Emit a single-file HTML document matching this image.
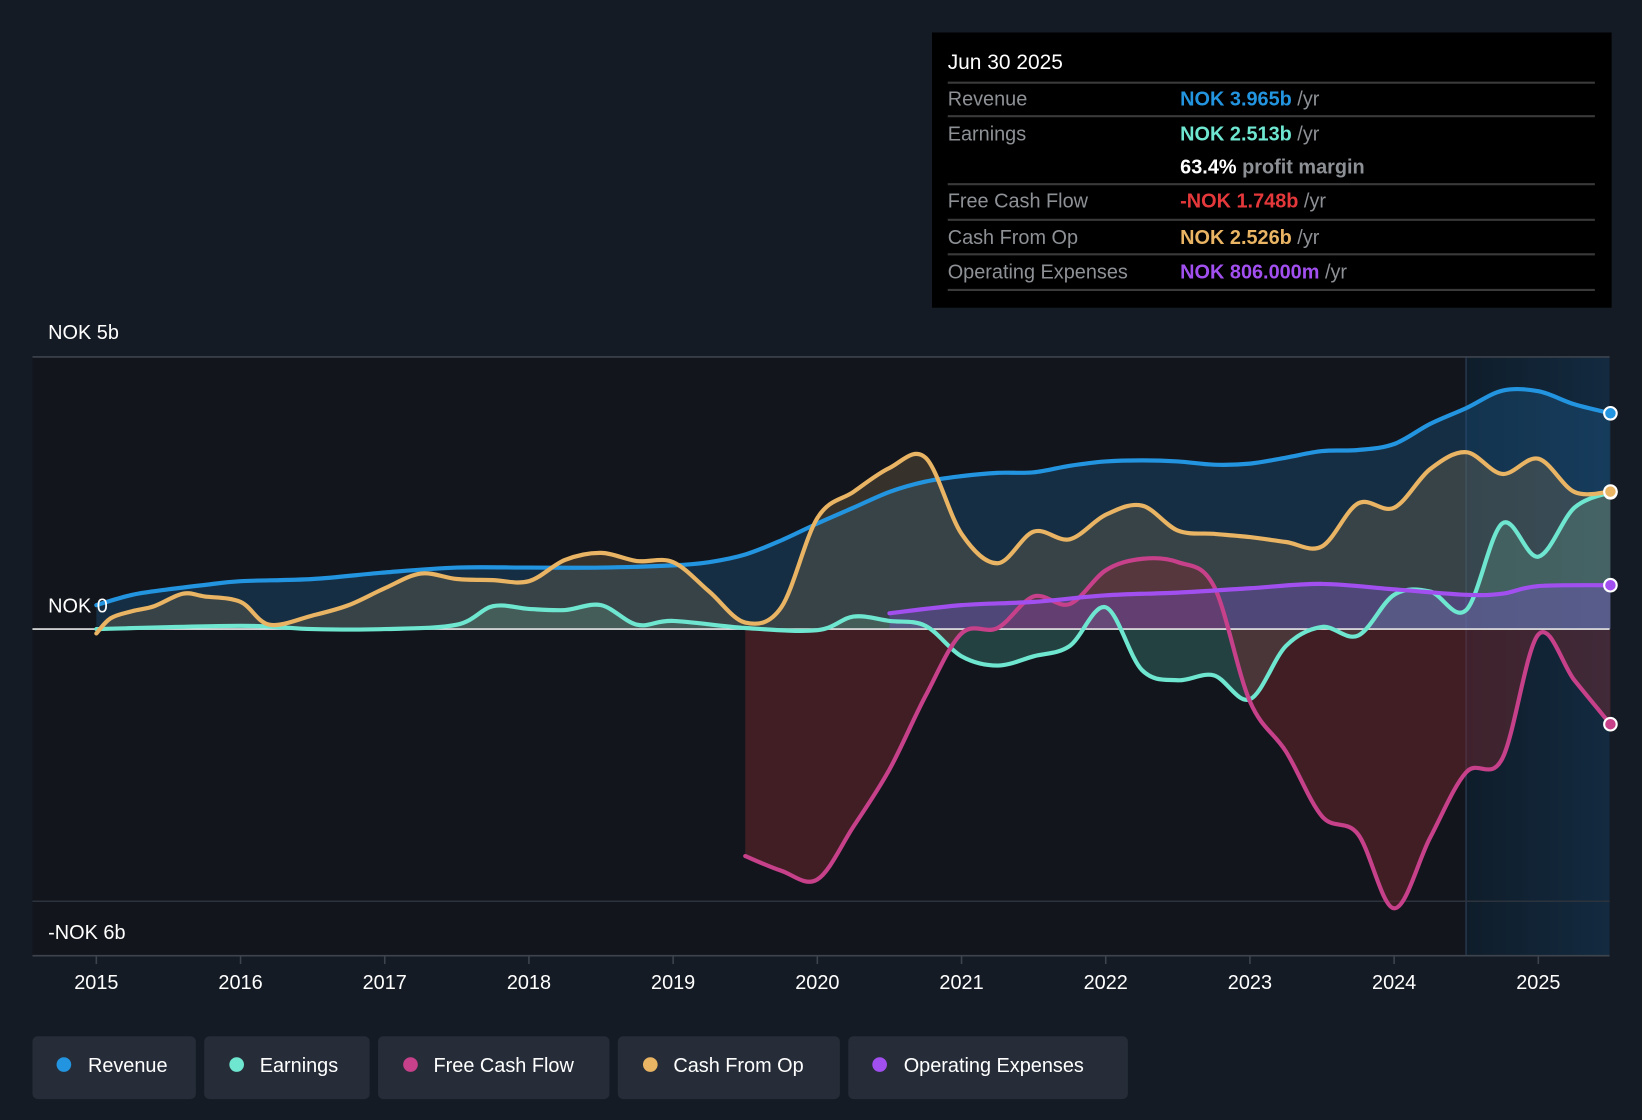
<!DOCTYPE html>
<html><head><meta charset="utf-8">
<style>
html,body{margin:0;padding:0;background:#151b24;}
svg{display:block;font-family:"Liberation Sans",sans-serif;}
</style></head>
<body>
<svg id="chart" width="1642" height="1120" viewBox="0 0 1568 1070" preserveAspectRatio="none" xmlns="http://www.w3.org/2000/svg">
<rect x="0" y="0" width="1568" height="1070" fill="#151b24"/>
<rect x="31" y="341" width="1369" height="572" fill="#12151b"/>
<defs>
<linearGradient id="fc" x1="0" x2="1" y1="0" y2="0"><stop offset="0" stop-color="#0f1d2a"/><stop offset="1" stop-color="#132a40"/></linearGradient>
</defs>
<rect x="1400" y="341" width="137" height="572" fill="url(#fc)"/>
<line x1="1400" y1="341" x2="1400" y2="913" stroke="#25354a" stroke-width="1.5"/>
<line x1="31" y1="341" x2="1537" y2="341" stroke="#3d444e" stroke-width="1.5"/>
<line x1="31" y1="861" x2="1537" y2="861" stroke="#2c333d" stroke-width="1.5"/>
<line x1="31" y1="913" x2="1537" y2="913" stroke="#3d444e" stroke-width="1.5"/>
<g id="areas"></g>
<line x1="31" y1="601" x2="1537" y2="601" stroke="#e8e8e8" stroke-width="1.5"/>
<g id="lines"></g>
<g id="xticks"></g>
<text x="46" y="324" fill="#fff" font-size="19">NOK 5b</text>
<text x="46" y="585" fill="#fff" font-size="19">NOK 0</text>
<text x="46" y="897" fill="#fff" font-size="19">-NOK 6b</text>

<g>
<rect x="890" y="31" width="649" height="263" fill="#000"/>
<text x="905" y="66" fill="#fff" font-size="20">Jun 30 2025</text>
<g stroke="#3a3a3a" stroke-width="2">
<line x1="905" y1="79" x2="1523" y2="79"/><line x1="905" y1="111" x2="1523" y2="111"/><line x1="905" y1="176" x2="1523" y2="176"/><line x1="905" y1="210" x2="1523" y2="210"/><line x1="905" y1="243" x2="1523" y2="243"/><line x1="905" y1="277" x2="1523" y2="277"/>
</g>
<g font-size="19" fill="#8d9095">
<text x="905" y="101">Revenue</text><text x="905" y="134">Earnings</text><text x="905" y="198">Free Cash Flow</text><text x="905" y="233">Cash From Op</text><text x="905" y="266">Operating Expenses</text>
</g>
<g font-size="19" font-weight="bold">
<text x="1127" y="101" fill="#2394df">NOK 3.965b <tspan fill="#8d9095" font-weight="normal">/yr</tspan></text>
<text x="1127" y="134" fill="#6ee6d0">NOK 2.513b <tspan fill="#8d9095" font-weight="normal">/yr</tspan></text>
<text x="1127" y="166" fill="#fff">63.4% <tspan fill="#8d9095">profit margin</tspan></text>
<text x="1127" y="198" fill="#e5383b">-NOK 1.748b <tspan fill="#8d9095" font-weight="normal">/yr</tspan></text>
<text x="1127" y="233" fill="#e9b463">NOK 2.526b <tspan fill="#8d9095" font-weight="normal">/yr</tspan></text>
<text x="1127" y="266" fill="#a24ff0">NOK 806.000m <tspan fill="#8d9095" font-weight="normal">/yr</tspan></text>
</g>
</g>

<g font-size="19" fill="#fff">
<g><rect x="31" y="990" width="156" height="60" rx="5" fill="#262d38"/><circle cx="61" cy="1017" r="7" fill="#2394df"/><text x="84" y="1024" fill="#fff">Revenue</text></g>
<g><rect x="195" y="990" width="158" height="60" rx="5" fill="#262d38"/><circle cx="226" cy="1017" r="7" fill="#6ee6d0"/><text x="248" y="1024" fill="#fff">Earnings</text></g>
<g><rect x="361" y="990" width="221" height="60" rx="5" fill="#262d38"/><circle cx="392" cy="1017" r="7" fill="#c6408a"/><text x="414" y="1024" fill="#fff">Free Cash Flow</text></g>
<g><rect x="590" y="990" width="212" height="60" rx="5" fill="#262d38"/><circle cx="621" cy="1017" r="7" fill="#e9b463"/><text x="643" y="1024" fill="#fff">Cash From Op</text></g>
<g><rect x="810" y="990" width="267" height="60" rx="5" fill="#262d38"/><circle cx="840" cy="1017" r="7" fill="#a24ff0"/><text x="863" y="1024" fill="#fff">Operating Expenses</text></g>
</g>
</svg>
<script>
const years = [2015,2016,2017,2018,2019,2020,2021,2022,2023,2024,2025];
const revT = [2015,2015.25,2015.5,2015.75,2016,2016.5,2017,2017.5,2018,2018.5,2019,2019.25,2019.5,2019.75,2020,2020.25,2020.5,2020.75,2021,2021.25,2021.5,2021.75,2022,2022.25,2022.5,2022.75,2023,2023.25,2023.5,2023.75,2024,2024.25,2024.5,2024.75,2025,2025.25,2025.5];
const revV = [0.44,0.63,0.73,0.81,0.88,0.92,1.04,1.13,1.13,1.13,1.17,1.23,1.37,1.63,1.94,2.23,2.52,2.71,2.81,2.87,2.88,3.0,3.08,3.1,3.08,3.02,3.04,3.15,3.27,3.29,3.4,3.77,4.06,4.38,4.37,4.13,3.965];
const cfoT = [2015,2015.1,2015.25,2015.4,2015.6,2015.75,2016,2016.2,2016.5,2016.75,2017,2017.25,2017.5,2017.75,2018,2018.25,2018.5,2018.75,2019,2019.25,2019.5,2019.75,2020,2020.25,2020.5,2020.75,2021,2021.25,2021.5,2021.75,2022,2022.25,2022.5,2022.75,2023,2023.25,2023.5,2023.75,2024,2024.25,2024.5,2024.75,2025,2025.25,2025.5];
const cfoV = [-0.08,0.2,0.33,0.42,0.65,0.6,0.5,0.08,0.25,0.44,0.75,1.02,0.92,0.9,0.88,1.27,1.4,1.25,1.23,0.69,0.12,0.4,2.04,2.52,2.96,3.15,1.75,1.21,1.79,1.65,2.1,2.27,1.81,1.75,1.69,1.6,1.52,2.31,2.23,2.94,3.25,2.85,3.13,2.52,2.526];
const earnT = [2015,2016,2016.5,2017,2017.5,2017.75,2018,2018.25,2018.5,2018.75,2019,2019.5,2020,2020.25,2020.5,2020.75,2021,2021.25,2021.5,2021.75,2022,2022.25,2022.5,2022.75,2023,2023.25,2023.5,2023.75,2024,2024.25,2024.5,2024.75,2025,2025.25,2025.5];
const earnV = [0,0.06,0,0,0.08,0.42,0.37,0.35,0.44,0.08,0.15,0.02,-0.02,0.23,0.15,0.06,-0.5,-0.67,-0.5,-0.31,0.4,-0.75,-0.94,-0.85,-1.29,-0.31,0.04,-0.12,0.63,0.69,0.35,1.94,1.33,2.23,2.513];
const fcfT = [2019.5,2019.75,2020,2020.25,2020.5,2020.75,2021,2021.25,2021.5,2021.75,2022,2022.25,2022.5,2022.75,2023,2023.25,2023.5,2023.75,2024,2024.25,2024.5,2024.75,2025,2025.25,2025.5];
const fcfV = [-4.17,-4.44,-4.6,-3.63,-2.58,-1.23,-0.08,0.02,0.6,0.46,1.08,1.29,1.23,0.79,-1.33,-2.25,-3.44,-3.77,-5.13,-3.83,-2.63,-2.38,-0.1,-0.94,-1.748];
const opexT = [2020.5,2021,2021.5,2022,2022.5,2023,2023.5,2024,2024.5,2024.75,2025,2025.5];
const opexV = [0.29,0.44,0.5,0.62,0.67,0.75,0.83,0.73,0.63,0.65,0.79,0.806];

const X = t => 92 + (t - 2015) * 137.7;
const Y = v => 601 - v * 52;
const NS = "http://www.w3.org/2000/svg";
function pts(T, V){ return T.map((t,i)=>[X(t),Y(V[i])]); }
function smooth(p){
  let d = `M${p[0][0]},${p[0][1]}`;
  for(let i=0;i<p.length-1;i++){
    const p0=p[i-1]||p[i], p1=p[i], p2=p[i+1], p3=p[i+2]||p2;
    const c1=[p1[0]+(p2[0]-p0[0])/6, p1[1]+(p2[1]-p0[1])/6];
    const c2=[p2[0]-(p3[0]-p1[0])/6, p2[1]-(p3[1]-p1[1])/6];
    d += ` C${c1[0]},${c1[1]} ${c2[0]},${c2[1]} ${p2[0]},${p2[1]}`;
  }
  return d;
}
const areas = document.getElementById('areas');
const lines = document.getElementById('lines');
function series(name, T, V, color, fill, fillOp){
  const p = pts(T,V);
  const d = smooth(p);
  const a = document.createElementNS(NS,'path');
  a.setAttribute('d', d + ` L${p[p.length-1][0]},601 L${p[0][0]},601 Z`);
  a.setAttribute('fill', fill); a.setAttribute('fill-opacity', fillOp);
  
  
  areas.appendChild(a);
  const l = document.createElementNS(NS,'path');
  l.setAttribute('d', d); l.setAttribute('fill','none'); l.setAttribute('stroke',color);
  l.setAttribute('stroke-width','4'); l.setAttribute('stroke-linejoin','round'); l.setAttribute('stroke-linecap','round');
  
  
  lines.appendChild(l);
  const last = p[p.length-1];
  const c = document.createElementNS(NS,'circle');
  c.setAttribute('cx', last[0]); c.setAttribute('cy', last[1]); c.setAttribute('r', 6);
  c.setAttribute('fill', color); c.setAttribute('stroke','#fff'); c.setAttribute('stroke-width','2');
  
  
  lines.appendChild(c);
}
series('revenue', revT, revV, '#2394df', '#1e5f93', 0.35);
series('earnings', earnT, earnV, '#6ee6d0', '#4fa99b', 0.3);
series('cash-from-op', cfoT, cfoV, '#e9b463', '#8c7450', 0.3);
series('free-cash-flow', fcfT, fcfV, '#c6408a', '#7a2a30', 0.45);
series('operating-expenses', opexT, opexV, '#a24ff0', '#7a4fd0', 0.35);

const xt = document.getElementById('xticks');
years.forEach(y=>{
  const tk = document.createElementNS(NS,'line');
  tk.setAttribute('x1',X(y)); tk.setAttribute('x2',X(y)); tk.setAttribute('y1',913); tk.setAttribute('y2',921);
  tk.setAttribute('stroke','#3d444e'); tk.setAttribute('stroke-width','1.5');
  
  
  xt.appendChild(tk);
  const tx = document.createElementNS(NS,'text');
  tx.setAttribute('x',X(y)); tx.setAttribute('y',945); tx.setAttribute('text-anchor','middle');
  tx.setAttribute('fill','#fff'); tx.setAttribute('font-size','19');
  tx.textContent = y;
  
  
  xt.appendChild(tx);
});
</script>
</body></html>
